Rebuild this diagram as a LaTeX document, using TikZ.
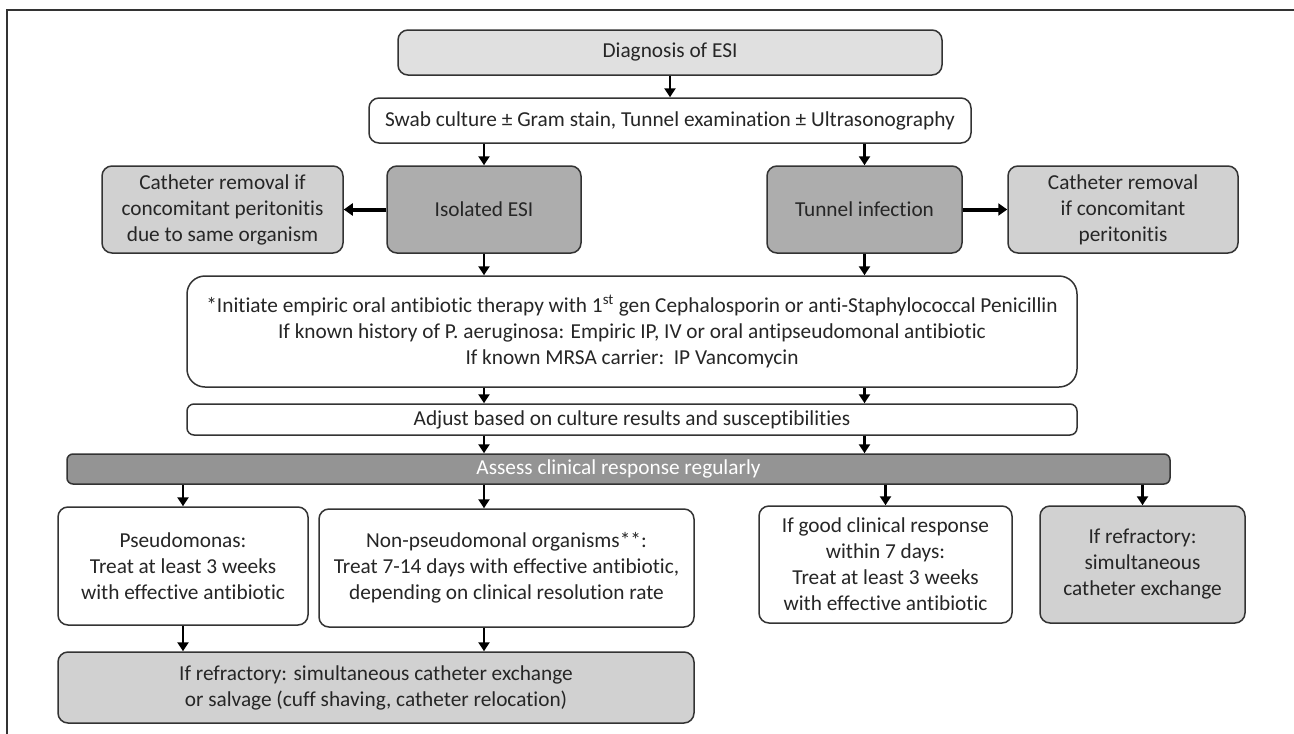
\documentclass[tikz,border=0pt]{standalone}
\usepackage{fontspec}
\setmainfont{Carlito}[Ligatures=NoCommon]
\usetikzlibrary{arrows.meta}
\definecolor{lightbox}{gray}{0.88}
\definecolor{midbox}{gray}{0.82}
\definecolor{darkbox}{gray}{0.68}
\definecolor{barbox}{gray}{0.58}
\definecolor{edge}{gray}{0.2}
\begin{document}
\begin{tikzpicture}[x=1pt,y=-1pt,
  box/.style={draw=edge, line width=1.5pt, rounded corners=10pt, align=center, inner sep=0pt, text=black!85, font=\fontsize{21.3}{26}\selectfont},
  arr/.style={-{Triangle[length=9pt,width=11pt]}, line width=2.8pt},
  side/.style={-{Triangle[length=9pt,width=12pt]}, line width=4pt}]
\useasboundingbox (0,0) rectangle (1294,734);
\draw[line width=1.5pt, draw=edge] (7,734) -- (7,10) -- (1294,10);

\node[box, fill=lightbox, minimum width=544pt, minimum height=45pt] (diag) at (670,52.5) {Diagnosis of ESI};
\node[box, fill=white, minimum width=602pt, minimum height=45pt] (swab) at (670,120.5) {Swab culture ± Gram stain, Tunnel examination ± Ultrasonography};

\node[box, fill=midbox, minimum width=241pt, minimum height=87pt] (cathl) at (222.5,209.5) {Catheter removal if\\concomitant peritonitis\\due to same organism};
\node[box, fill=darkbox, minimum width=194pt, minimum height=87pt] (isol) at (484,209.5) {Isolated ESI};
\node[box, fill=darkbox, minimum width=195pt, minimum height=87pt] (tunnel) at (864.5,209.5) {Tunnel infection};
\node[box, fill=midbox, minimum width=230pt, minimum height=87pt] (cathr) at (1123,209.5) {Catheter removal\\if concomitant\\peritonitis};

\node[box, fill=white, rounded corners=18pt, minimum width=890pt, minimum height=111pt] (init) at (632,331.5) {*Initiate empiric oral antibiotic therapy with 1\textsuperscript{st} gen Cephalosporin or anti-Staphylococcal Penicillin\\If known history of P. aeruginosa: Empiric IP, IV or oral antipseudomonal antibiotic\\If known MRSA carrier:\ \ IP Vancomycin};
\node[box, fill=white, rounded corners=7pt, minimum width=890pt, minimum height=31pt] (adjust) at (632,419.5) {Adjust based on culture results and susceptibilities};
\node[box, fill=barbox, text=white, rounded corners=6pt, minimum width=1103pt, minimum height=30pt] (assess) at (618.5,469) {Assess clinical response regularly};

\node[box, fill=white, minimum width=250pt, minimum height=118pt] (pseudo) at (183,566) {Pseudomonas:\\Treat at least 3 weeks\\with effective antibiotic};
\node[box, fill=white, minimum width=375pt, minimum height=118pt] (nonps) at (506.5,568) {Non-pseudomonal organisms**:\\Treat 7-14 days with effective antibiotic,\\depending on clinical resolution rate};
\node[box, fill=white, minimum width=253pt, minimum height=117pt] (good) at (885.5,564.5) {If good clinical response\\within 7 days:\\Treat at least 3 weeks\\with effective antibiotic};
\node[box, fill=midbox, minimum width=205pt, minimum height=117pt] (refr) at (1142.5,564.5) {If refractory:\\simultaneous\\catheter exchange};
\node[box, fill=midbox, minimum width=636pt, minimum height=71pt] (salvage) at (376,687.5) {If refractory: simultaneous catheter exchange\\or salvage (cuff shaving, catheter relocation)};

\draw[arr] (diag) -- (swab);
\draw[arr] (swab.south -| isol) -- (isol);
\draw[arr] (swab.south -| tunnel) -- (tunnel);
\draw[side] (isol) -- (cathl);
\draw[side] (tunnel) -- (cathr);
\draw[arr] (isol) -- (init.north -| isol);
\draw[arr] (tunnel) -- (init.north -| tunnel);
\draw[arr] (init.south -| isol) -- (adjust.north -| isol);
\draw[arr] (init.south -| tunnel) -- (adjust.north -| tunnel);
\draw[arr] (adjust.south -| isol) -- (assess.north -| isol);
\draw[arr] (adjust.south -| tunnel) -- (assess.north -| tunnel);
\draw[arr] (assess.south -| pseudo) -- (pseudo);
\draw[arr] (assess.south -| isol) -- (nonps.north -| isol);
\draw[arr] (assess.south -| good) -- (good);
\draw[arr] (assess.south -| refr) -- (refr);
\draw[arr] (pseudo) -- (salvage.north -| pseudo);
\draw[arr] (nonps.south -| isol) -- (salvage.north -| isol);
\end{tikzpicture}
\end{document}
